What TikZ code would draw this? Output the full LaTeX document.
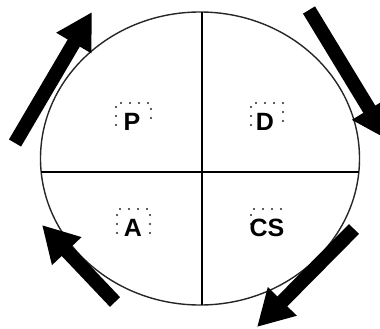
\documentclass[tikz,border=0pt]{standalone}
\usepackage{fontspec}
\setmainfont{Liberation Sans}
\usetikzlibrary{arrows.meta}
\tikzset{
  bigarrow/.style={line width=14pt, -{Triangle[length=36pt,width=38pt]}},
  divider/.style={line width=1.6pt, black},
  rim/.style={line width=1.4pt, black!85},
  dotbox/.style={line width=2.4pt, line cap=round, dash pattern=on 0pt off 9pt, black!85},
  lbl/.style={font=\bfseries\fontsize{25}{25}\selectfont, inner sep=0pt, anchor=base}
}
\begin{document}
\begin{tikzpicture}[x=1pt,y=-1pt]
\useasboundingbox (0,0) rectangle (380,329);
% cycle
\draw[rim] (200,158.5) ellipse [x radius=159.5, y radius=146.5];
\coordinate (vtop) at (202,12.1);
\coordinate (vbot) at (202,304.9);
\coordinate (hleft) at (40.7,172);
\coordinate (hright) at (359.3,172);
\draw[divider] (vtop) -- (vbot);
\draw[divider] (hleft) -- (hright);
% dotted frames
\draw[dotbox] (116,125) -- (116,103) -- (151,103) -- (151,125);
\draw[dotbox] (251,125) -- (251,103) -- (283,103) -- (283,125);
\draw[dotbox] (117,233) -- (117,209) -- (150,209) -- (150,233);
\draw[dotbox] (251,224) -- (251,209) -- (283,209);
% labels
\node[lbl] (P) at (132,130.5) {P};
\node[lbl] (D) at (265,130.5) {D};
\node[lbl] (A) at (133,236) {A};
\node[lbl] (CS) at (267,236) {CS};
% arrows
\coordinate (a1s) at (15,143);
\coordinate (a1e) at (92,12);
\coordinate (a2s) at (309,10);
\coordinate (a2e) at (388,140);
\coordinate (a3s) at (115,302);
\coordinate (a3e) at (42,225);
\coordinate (a4s) at (354,229);
\coordinate (a4e) at (257,327);
\draw[bigarrow] (a1s) -- (a1e);
\draw[bigarrow] (a2s) -- (a2e);
\draw[bigarrow] (a3s) -- (a3e);
\draw[bigarrow] (a4s) -- (a4e);
\end{tikzpicture}
\end{document}
